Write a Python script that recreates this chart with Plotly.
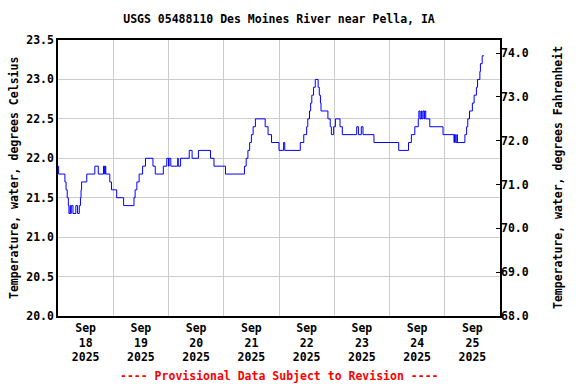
import pandas as pd
import plotly.graph_objects as go

# Step-change breakpoints: hours after 2025-09-18 00:00 and water temperature (deg C)
start_time = "2025-09-18 00:00"
change_hours = [
    0, 0.25, 3.0, 3.5, 4.0, 4.5, 4.75, 5.25, 5.5, 5.75, 6.5, 7.75, 8.5, 9.25, 9.75, 10.0, 10.25,
    12.5, 16.0, 17.5, 19.75, 20.25, 20.5, 20.75, 22.5, 23.25, 25.5, 28.5,
    33.0, 33.5, 34.25, 35.25, 36.75, 38.0, 41.25, 42.25, 45.75, 47.25, 48.0, 48.25, 49.0,
    52.0, 52.25, 53.25, 57.0, 58.25, 61.0, 66.25, 67.75, 72.75,
    81.0, 81.75, 82.5, 83.25, 84.0, 84.75, 85.75, 90.0, 91.25, 92.75, 96.0, 98.0, 98.5,
    105.25, 106.75, 108.0, 108.5, 109.25, 109.75, 110.25, 111.0, 111.75, 113.0, 113.5, 114.0,
    114.25, 117.25, 118.25, 118.75, 119.75, 120.5, 122.5, 123.5, 129.75, 130.5, 131.75, 132.5,
    137.25, 148.0, 152.25, 153.5, 155.0, 156.5, 156.75, 157.25, 157.75, 158.0, 158.5, 159.0,
    159.25, 159.75, 161.5, 167.25, 172.0, 172.25, 172.75, 173.25, 173.5, 176.75, 177.5, 178.0,
    178.75, 180.0, 180.75, 181.75, 182.25, 183.25, 183.5, 184.25, 185.0,
]
temp_c = [
    21.9, 21.8, 21.7, 21.6, 21.5, 21.4, 21.3, 21.4, 21.3, 21.4, 21.3, 21.4, 21.3, 21.4, 21.5, 21.6, 21.7,
    21.8, 21.9, 21.8, 21.9, 21.8, 21.9, 21.8, 21.7, 21.6, 21.5, 21.4,
    21.5, 21.6, 21.7, 21.8, 21.9, 22.0, 21.9, 21.8, 21.9, 22.0, 21.9, 22.0, 21.9,
    22.0, 21.9, 22.0, 22.1, 22.0, 22.1, 22.0, 21.9, 21.8,
    21.9, 22.0, 22.1, 22.2, 22.3, 22.4, 22.5, 22.4, 22.3, 22.2, 22.1, 22.2, 22.1,
    22.2, 22.3, 22.4, 22.5, 22.6, 22.7, 22.8, 22.9, 23.0, 22.9, 22.8, 22.7,
    22.6, 22.5, 22.4, 22.3, 22.4, 22.5, 22.4, 22.3, 22.4, 22.3, 22.4, 22.3,
    22.2, 22.1, 22.2, 22.3, 22.4, 22.5, 22.6, 22.5, 22.6, 22.5, 22.6, 22.5,
    22.6, 22.5, 22.4, 22.3, 22.2, 22.3, 22.2, 22.3, 22.2, 22.3, 22.4, 22.5,
    22.6, 22.7, 22.8, 22.9, 23.0, 23.1, 23.2, 23.3, 23.3,
]

day_labels = ["Sep<br>18<br>2025", "Sep<br>19<br>2025", "Sep<br>20<br>2025", "Sep<br>21<br>2025",
              "Sep<br>22<br>2025", "Sep<br>23<br>2025", "Sep<br>24<br>2025", "Sep<br>25<br>2025"]
label_times = ["2025-09-18 12:00", "2025-09-19 12:00", "2025-09-20 12:00", "2025-09-21 12:00",
               "2025-09-22 12:00", "2025-09-23 12:00", "2025-09-24 12:00", "2025-09-25 12:00"]
grid_times = ["2025-09-19", "2025-09-20", "2025-09-21", "2025-09-22",
              "2025-09-23", "2025-09-24", "2025-09-25"]
c_ticks = [20.0, 20.5, 21.0, 21.5, 22.0, 22.5, 23.0, 23.5]
f_ticks = [68.0, 69.0, 70.0, 71.0, 72.0, 73.0, 74.0]

times = pd.Timestamp(start_time) + pd.to_timedelta(change_hours, unit="h")

FONT = "DejaVu Sans Mono"
FS = 11.5
fig = go.Figure()
fig.add_trace(go.Scatter(x=times, y=temp_c, mode="lines", line=dict(color="#0000ff", width=1, shape="hv"),
                         showlegend=False, hoverinfo="skip"))
# invisible trace to activate the Fahrenheit axis
fig.add_trace(go.Scatter(x=[times[0]], y=[68], yaxis="y2", mode="markers", marker=dict(opacity=0),
                         showlegend=False, hoverinfo="skip"))

fig.update_layout(
    width=576, height=384,
    margin=dict(l=58, r=76, t=40, b=68, autoexpand=False),
    paper_bgcolor="white", plot_bgcolor="white",
    font=dict(family=FONT, size=FS, color="black", weight="bold"),
    title=dict(text="USGS 05488110 Des Moines River near Pella, IA", x=0.5, xref="paper",
               y=1 - 19 / 384, yref="container", yanchor="middle", xanchor="center",
               automargin=False,
               font=dict(family=FONT, size=FS, color="black", weight="bold")),
    xaxis=dict(
        type="date", range=["2025-09-18 00:00", "2025-09-26 00:00"], automargin=False,
        tickmode="array", tickvals=label_times, ticktext=day_labels, ticks="",
        showgrid=False, zeroline=False,
        showline=True, linecolor="black", linewidth=1.5, mirror=True,
        tickfont=dict(family=FONT, size=FS, weight="bold"),
        minor=dict(tickmode="array", tickvals=grid_times, showgrid=True, gridcolor="#cccccc",
                   gridwidth=1, ticks=""),
    ),
    yaxis=dict(
        range=[20.0, 23.5], tickmode="array", tickvals=c_ticks, tickformat=".1f", automargin=False,
        ticks="", showgrid=True, gridcolor="#cccccc", gridwidth=1, zeroline=False,
        showline=True, linecolor="black", linewidth=1.5, mirror=True,
        tickfont=dict(family=FONT, size=FS, weight="bold"),
    ),
    yaxis2=dict(
        range=[68.0, 74.3], overlaying="y", side="right", tickmode="array", tickvals=f_ticks,
        tickformat=".1f", ticks="inside", ticklen=4, tickcolor="black", showgrid=False,
        zeroline=False, showline=False, automargin=False,
        tickfont=dict(family=FONT, size=FS, weight="bold"),
    ),
    annotations=[
        dict(text="Temperature, water, degrees Celsius", xref="paper", yref="paper", x=0, y=0.5,
             xshift=-44, textangle=-90, showarrow=False, xanchor="center", yanchor="middle",
             font=dict(family=FONT, size=FS, weight="bold")),
        dict(text="Temperature, water, degrees Fahrenheit", xref="paper", yref="paper", x=1, y=0.5,
             xshift=58, textangle=-90, showarrow=False, xanchor="center", yanchor="middle",
             font=dict(family=FONT, size=FS, weight="bold")),
        dict(text="---- Provisional Data Subject to Revision ----", xref="paper", yref="paper",
             x=0.5, y=0, yshift=-60, showarrow=False, xanchor="center", yanchor="middle",
             font=dict(family=FONT, size=FS, color="red", weight="bold")),
    ],
)

fig.write_html("out.html", config={"displayModeBar": False},
               post_script="document.body.style.margin='0px';")
